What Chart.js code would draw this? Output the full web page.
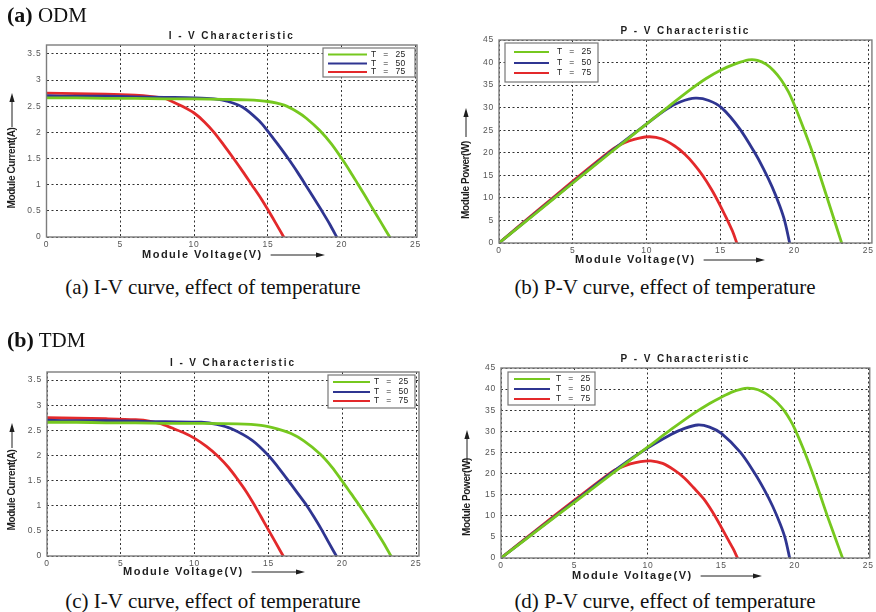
<!DOCTYPE html>
<html>
<head>
<meta charset="utf-8">
<script src="https://cdn.jsdelivr.net/npm/chart.js@4.4.1/dist/chart.umd.min.js"></script>
<style>
    body { margin: 0; background: #fff; width: 876px; height: 612px; position: relative; overflow: hidden; }
    canvas { position: absolute; }
    .fig { position: absolute; font-family: "Liberation Serif", "Times New Roman", serif; font-size: 21px; color: #111; line-height: 24px; white-space: nowrap; z-index: 2; }
    .fig b { font-size: 22px; }
    .cap { position: absolute; width: 440px; text-align: center; font-family: "Liberation Serif", "Times New Roman", serif; font-size: 21px; line-height: 24px; color: #111; white-space: nowrap; }
</style>
</head>
<body>
<div class="fig" style="left:7px;top:3px"><b>(a)</b> ODM</div>
<div class="fig" style="left:7px;top:328px"><b>(b)</b> TDM</div>

<canvas id="cA"></canvas>
<canvas id="cB"></canvas>
<canvas id="cC"></canvas>
<canvas id="cD"></canvas>

<div class="cap" style="left:-7px;top:275px">(a) I-V curve, effect of temperature</div>
<div class="cap" style="left:445px;top:275px">(b) P-V curve, effect of temperature</div>
<div class="cap" style="left:-7px;top:589px">(c) I-V curve, effect of temperature</div>
<div class="cap" style="left:445px;top:589px">(d) P-V curve, effect of temperature</div>

<script>
    var seriesLabels = ['T = 25', 'T = 50', 'T = 75'];
    var seriesColors = ['#76c81f', '#2f3591', '#e3292b'];
    var xTickValues = [0, 5, 10, 15, 20, 25];
    var ivTickValues = [0, 0.5, 1, 1.5, 2, 2.5, 3, 3.5];
    var pvTickValues = [0, 5, 10, 15, 20, 25, 30, 35, 40, 45];

    // (a) ODM, I-V
    var odmIvV25 = [0, 2, 4, 6, 8, 10, 12, 13.6, 15, 16.1, 17, 17.6, 18.5, 19.3, 20, 20.6, 21.1, 21.6, 22.1, 22.7, 23.25];
    var odmIvI25 = [2.66, 2.66, 2.65, 2.65, 2.64, 2.64, 2.63, 2.62, 2.59, 2.52, 2.39, 2.27, 2.04, 1.78, 1.50, 1.24, 1.01, 0.78, 0.54, 0.26, 0];
    var odmIvV50 = [0, 2, 4, 6, 8, 10, 11.35, 12.3, 13.3, 14.4, 15, 15.7, 16.4, 17, 17.5, 18.1, 18.65, 19.2, 19.66];
    var odmIvI50 = [2.70, 2.69, 2.69, 2.68, 2.67, 2.66, 2.64, 2.59, 2.48, 2.22, 2.02, 1.76, 1.49, 1.24, 1.02, 0.75, 0.5, 0.24, 0];
    var odmIvV75 = [0, 2, 4, 6, 7, 8, 8.43, 9.2, 10, 10.7, 11.35, 12, 12.7, 13.3, 13.9, 14.5, 15, 15.5, 16.07];
    var odmIvI75 = [2.75, 2.74, 2.73, 2.71, 2.69, 2.65, 2.6, 2.5, 2.37, 2.2, 2.0, 1.76, 1.49, 1.25, 1.0, 0.75, 0.52, 0.28, 0];

    // (b) ODM, P-V
    var odmPvV25 = [0, 2.5, 5, 7.5, 10, 11.5, 13, 14, 15, 16, 16.9, 17.5, 18.1, 18.6, 19.1, 19.6, 20, 20.6, 21.2, 21.7, 22.2, 22.7, 23.2];
    var odmPvP25 = [0, 6.6, 13.3, 19.9, 26.4, 30.3, 34.1, 36.4, 38.3, 39.7, 40.6, 40.5, 39.6, 38.2, 36.2, 33.5, 30.6, 25.6, 20.3, 15.3, 10.2, 5.1, 0];
    var odmPvV50 = [0, 2.5, 5, 7.5, 9.67, 11.3, 12.3, 13.3, 14.2, 15.1, 16.3, 17.3, 17.9, 18.5, 19.0, 19.35, 19.68];
    var odmPvP50 = [0, 6.7, 13.4, 20.1, 25.6, 29.6, 31.3, 32.1, 31.6, 29.9, 25.3, 20.1, 16.5, 12.4, 8.3, 4.8, 0];
    var odmPvV75 = [0, 2.5, 5, 7.5, 8.1, 8.8, 9.5, 10.2, 11.0, 11.9, 12.6, 13.2, 13.8, 14.4, 14.9, 15.4, 15.8, 16.1];
    var odmPvP75 = [0, 6.9, 13.7, 20.3, 21.6, 22.6, 23.25, 23.55, 23.1, 21.5, 19.6, 17.5, 14.9, 11.8, 8.8, 5.5, 2.7, 0];

    // (c) TDM, I-V
    var tdmIvV25 = [0, 2, 4, 6, 8, 10, 12.9, 14.5, 15.6, 16.5, 17.4, 18.5, 19.3, 20, 20.6, 21.2, 21.7, 22.2, 22.8, 23.3];
    var tdmIvI25 = [2.66, 2.66, 2.65, 2.65, 2.64, 2.64, 2.63, 2.6, 2.53, 2.44, 2.29, 2.03, 1.77, 1.49, 1.24, 0.99, 0.77, 0.54, 0.26, 0];
    var tdmIvV50 = [0, 2, 4, 6, 8, 10.45, 11.5, 12.5, 13.9, 15, 15.7, 16.4, 17, 17.6, 18.1, 18.65, 19.1, 19.6];
    var tdmIvI50 = [2.70, 2.69, 2.69, 2.68, 2.67, 2.66, 2.62, 2.53, 2.3, 2.0, 1.75, 1.48, 1.24, 1.0, 0.77, 0.5, 0.26, 0];
    var tdmIvV75 = [0, 2, 4, 6, 7, 7.7, 8.43, 9.2, 10, 10.8, 11.6, 12.3, 12.9, 13.5, 14.0, 14.5, 15, 15.5, 16];
    var tdmIvI75 = [2.75, 2.74, 2.73, 2.71, 2.68, 2.63, 2.55, 2.46, 2.34, 2.18, 1.98, 1.76, 1.53, 1.28, 1.04, 0.78, 0.52, 0.26, 0];

    // (d) TDM, P-V
    var tdmPvV25 = [0, 2.5, 5, 7.5, 10, 11.6, 13.1, 14.2, 15, 15.8, 16.6, 17.2, 17.8, 18.3, 18.8, 19.3, 19.7, 20, 20.6, 21.2, 21.7, 22.2, 22.75, 23.25];
    var tdmPvP25 = [0, 6.6, 13.2, 19.8, 26.3, 30.5, 34.2, 36.6, 38.1, 39.4, 40.2, 40.1, 39.4, 38.3, 36.8, 34.8, 32.6, 30.6, 25.7, 20.2, 15.2, 10.1, 4.8, 0];
    var tdmPvV50 = [0, 2.5, 5, 7.5, 9.55, 11.6, 12.5, 13.4, 14.2, 15, 16.3, 17.3, 17.9, 18.5, 19.0, 19.35, 19.65];
    var tdmPvP50 = [0, 6.7, 13.4, 20.1, 25.1, 29.3, 30.7, 31.5, 31.0, 29.5, 25.0, 19.9, 16.3, 12.2, 8.1, 4.6, 0];
    var tdmPvV75 = [0, 2.5, 5, 7.5, 8.1, 8.8, 9.5, 10.2, 11.0, 11.8, 12.5, 13.1, 13.8, 14.4, 14.9, 15.4, 15.8, 16.1];
    var tdmPvP75 = [0, 6.9, 13.7, 20.3, 21.4, 22.3, 22.85, 23.0, 22.4, 20.8, 18.9, 16.7, 14.0, 10.9, 7.9, 4.7, 2.2, 0];

    var SANS = '"Liberation Sans", Arial, Helvetica, sans-serif';

    function pts(xs, ys) {
        return xs.map(function (x, i) { return { x: x, y: ys[i] }; });
    }

    function arrow(ctx, x1, y1, x2, y2) {
        var ang = Math.atan2(y2 - y1, x2 - x1);
        var c = Math.cos(ang), s = Math.sin(ang);
        ctx.beginPath();
        ctx.moveTo(x1, y1);
        ctx.lineTo(x2 - 6 * c, y2 - 6 * s);
        ctx.stroke();
        ctx.beginPath();
        ctx.moveTo(x2, y2);
        ctx.lineTo(x2 - 9 * c + 2.6 * s, y2 - 9 * s - 2.6 * c);
        ctx.lineTo(x2 - 9 * c - 2.6 * s, y2 - 9 * s + 2.6 * c);
        ctx.closePath();
        ctx.fill();
    }

    // frame, title, axis names, legend (MATLAB look)
    var decoPlugin = {
        id: 'deco',
        beforeDraw: function (chart) {
            chart.ctx.letterSpacing = '0.8px';
        },
        afterDraw: function (chart, args, o) {
            var ctx = chart.ctx, a = chart.chartArea, ox = o.ox, oy = o.oy;
            ctx.save();
            ctx.strokeStyle = '#7d7d7d';
            ctx.lineWidth = 1.4;
            ctx.strokeRect(a.left, a.top, a.right - a.left, a.bottom - a.top);

            ctx.fillStyle = '#1e1e1e';
            ctx.strokeStyle = '#1e1e1e';
            ctx.lineWidth = 1;
            ctx.textBaseline = 'middle';

            ctx.font = 'bold 10px ' + SANS;
            ctx.letterSpacing = '1.9px';
            ctx.textAlign = 'center';
            ctx.fillText(o.title, (a.left + a.right) / 2, a.top - 9);

            var xl = o.xLab;
            ctx.font = 'bold 11px ' + SANS;
            ctx.letterSpacing = '1.5px';
            ctx.textAlign = 'left';
            ctx.fillText(o.xText, xl[0] - ox, xl[1] - oy);
            var w = ctx.measureText(o.xText).width;
            arrow(ctx, xl[0] - ox + w + 8, xl[1] - oy, xl[2] - ox, xl[1] - oy);

            var yl = o.yLab;
            ctx.save();
            ctx.translate(yl[0] - ox, yl[1] - oy);
            ctx.rotate(-Math.PI / 2);
            ctx.font = 'bold 10px ' + SANS;
            ctx.letterSpacing = '-0.4px';
            ctx.textAlign = 'center';
            ctx.fillText(o.yText, 0, 0);
            ctx.restore();
            arrow(ctx, yl[0] - ox, yl[2] - oy, yl[0] - ox, yl[3] - oy);

            var lg = o.legend;
            ctx.fillStyle = '#fff';
            ctx.fillRect(lg.x - ox, lg.y - oy, lg.w, lg.h);
            ctx.strokeStyle = '#777';
            ctx.lineWidth = 1.2;
            ctx.strokeRect(lg.x - ox, lg.y - oy, lg.w, lg.h);
            chart.data.datasets.forEach(function (ds, i) {
                var ry = lg.rows[i] - oy;
                ctx.strokeStyle = ds.borderColor;
                ctx.lineWidth = 2.2;
                ctx.beginPath();
                ctx.moveTo(lg.lineX[0] - ox, ry);
                ctx.lineTo(lg.lineX[1] - ox, ry);
                ctx.stroke();
                ctx.fillStyle = '#222';
                ctx.font = '8.5px ' + SANS;
                ctx.letterSpacing = '0.4px';
                ctx.wordSpacing = '4px';
                ctx.textAlign = 'left';
                ctx.fillText(ds.label, lg.textX - ox, ry);
            });
            ctx.restore();
        }
    };

    var panels = [
        {
            id: 'cA', left: 0, top: 20, width: 440, height: 255,
            box: [46.5, 45, 417, 237], xMax: 25.1, yMax: 3.67, yTicks: ivTickValues,
            series: [[odmIvV25, odmIvI25], [odmIvV50, odmIvI50], [odmIvV75, odmIvI75]],
            title: 'I - V Characteristic', xText: 'Module Voltage(V)', yText: 'Module Current(A)',
            xLab: [142, 255, 325], yLab: [12, 168, 127, 93],
            legend: { x: 323, y: 48, w: 92, h: 29, rows: [54.5, 63.5, 72], lineX: [328, 367], textX: 371 }
        },
        {
            id: 'cB', left: 440, top: 20, width: 436, height: 255,
            box: [499, 40, 872, 243], xMax: 25.25, yMax: 45, yTicks: pvTickValues,
            series: [[odmPvV25, odmPvP25], [odmPvV50, odmPvP50], [odmPvV75, odmPvP75]],
            title: 'P - V Characteristic', xText: 'Module Voltage(V)', yText: 'Module Power(W)',
            xLab: [575, 260, 765], yLab: [466, 180, 137, 108],
            legend: { x: 505, y: 43, w: 93, h: 39, rows: [52, 63, 73], lineX: [514, 549], textX: 557 }
        },
        {
            id: 'cC', left: 0, top: 345, width: 440, height: 240,
            box: [47, 372, 419, 556], xMax: 25.2, yMax: 3.66, yTicks: ivTickValues,
            series: [[tdmIvV25, tdmIvI25], [tdmIvV50, tdmIvI50], [tdmIvV75, tdmIvI75]],
            title: 'I - V Characteristic', xText: 'Module Voltage(V)', yText: 'Module Current(A)',
            xLab: [123, 572, 305], yLab: [12, 490, 448, 423],
            legend: { x: 328, y: 375, w: 87, h: 33, rows: [382, 392, 401], lineX: [333, 370], textX: 374 }
        },
        {
            id: 'cD', left: 440, top: 345, width: 436, height: 240,
            box: [501, 368, 872, 558], xMax: 25.1, yMax: 45, yTicks: pvTickValues,
            series: [[tdmPvV25, tdmPvP25], [tdmPvV50, tdmPvP50], [tdmPvV75, tdmPvP75]],
            title: 'P - V Characteristic', xText: 'Module Voltage(V)', yText: 'Module Power(W)',
            xLab: [572, 576, 762], yLab: [467, 497, 463, 430],
            legend: { x: 508, y: 372, w: 87, h: 33, rows: [379, 389, 399], lineX: [514, 550], textX: 556 }
        }
    ];

    panels.forEach(function (p) {
        var canvas = document.getElementById(p.id);
        canvas.width = p.width;
        canvas.height = p.height;
        canvas.style.left = p.left + 'px';
        canvas.style.top = p.top + 'px';
        canvas.style.width = p.width + 'px';
        canvas.style.height = p.height + 'px';

        var padL = p.box[0] - p.left;
        var padT = p.box[1] - p.top;
        var padR = p.left + p.width - p.box[2];
        var padB = p.top + p.height - p.box[3];

        var tickFont = { family: SANS, size: 8.5 };

        new Chart(canvas.getContext('2d'), {
            type: 'scatter',
            data: {
                datasets: p.series.map(function (s, i) {
                    return {
                        label: seriesLabels[i],
                        data: pts(s[0], s[1]),
                        showLine: true,
                        borderColor: seriesColors[i],
                        borderWidth: 2.8,
                        borderCapStyle: 'round',
                        borderJoinStyle: 'round',
                        pointRadius: 0,
                        fill: false,
                        tension: 0.3
                    };
                })
            },
            options: {
                responsive: false,
                animation: false,
                layout: { padding: { top: padT, right: padR, left: 0, bottom: 0 } },
                plugins: {
                    legend: { display: false },
                    tooltip: { enabled: false },
                    deco: {
                        ox: p.left, oy: p.top, title: p.title, xText: p.xText, yText: p.yText,
                        xLab: p.xLab, yLab: p.yLab, legend: p.legend
                    }
                },
                scales: {
                    x: {
                        type: 'linear', min: 0, max: p.xMax,
                        afterBuildTicks: function (s) { s.ticks = xTickValues.map(function (v) { return { value: v }; }); },
                        afterFit: function (s) { s.height = padB; },
                        grid: { color: '#333', lineWidth: 1, drawTicks: false },
                        border: { display: false, dash: [2, 2.5] },
                        ticks: { font: tickFont, color: '#555', padding: 3, autoSkip: false, maxRotation: 0,
                            callback: function (v) { return String(v); } }
                    },
                    y: {
                        type: 'linear', min: 0, max: p.yMax,
                        afterBuildTicks: function (s) { s.ticks = p.yTicks.map(function (v) { return { value: v }; }); },
                        afterFit: function (s) { s.width = padL; },
                        grid: { color: '#333', lineWidth: 1, drawTicks: false },
                        border: { display: false, dash: [2, 2.5] },
                        ticks: { font: tickFont, color: '#555', padding: 5, autoSkip: false,
                            callback: function (v) { return String(v); } }
                    }
                }
            },
            plugins: [decoPlugin]
        });
    });
</script>
</body>
</html>
